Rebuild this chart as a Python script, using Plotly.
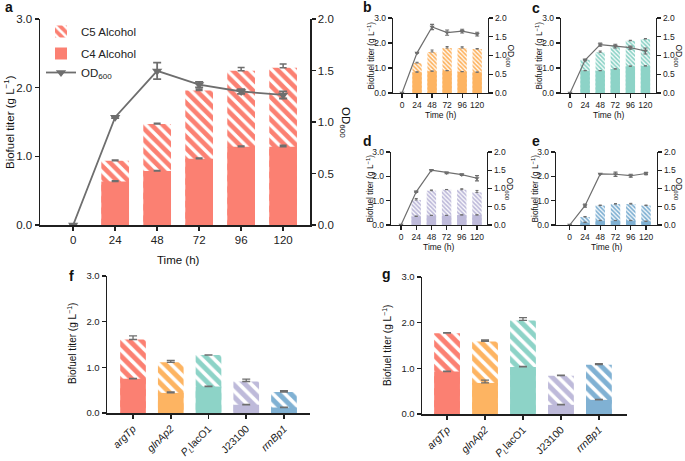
import plotly.graph_objects as go

W, H = 685, 461

# ---------------- data ----------------
times = ["0", "24", "48", "72", "96", "120"]
bar_times = ["24", "48", "72", "96", "120"]

a_c4 = [0.635, 0.785, 0.965, 1.14, 1.14]
a_c5 = [0.30, 0.685, 0.995, 1.105, 1.15]
a_c4_err = [0.01, 0.01, 0.01, 0.01, 0.02]
a_tot_err = [0.01, 0.01, 0.02, 0.05, 0.055]
a_od = [0, 1.047, 1.496, 1.363, 1.296, 1.263]
a_od_err = [0, 0.01, 0.08, 0.026, 0.023, 0.035]

b_c4 = [0.83, 0.87, 0.89, 0.85, 0.83]
b_c5 = [0.37, 0.77, 0.91, 0.95, 0.93]
b_c4_err = [0.02, 0.01, 0.01, 0.01, 0.01]
b_tot_err = [0.03, 0.08, 0.06, 0.05, 0.02]
b_od = [0, 1.07, 1.76, 1.61, 1.65, 1.57]
b_od_err = [0, 0.01, 0.07, 0.07, 0.05, 0.05]

c_c4 = [0.89, 0.89, 0.96, 1.07, 1.08]
c_c5 = [0.44, 0.74, 0.91, 1.02, 1.08]
c_c4_err = [0.01, 0.01, 0.01, 0.01, 0.01]
c_tot_err = [0.02, 0.05, 0.04, 0.02, 0.02]
c_od = [0, 0.88, 1.29, 1.25, 1.21, 1.12]
c_od_err = [0, 0.02, 0.04, 0.05, 0.04, 0.08]

d_c4 = [0.35, 0.39, 0.39, 0.41, 0.41]
d_c5 = [0.68, 1.02, 1.06, 1.04, 0.93]
d_c4_err = [0.02, 0.01, 0.01, 0.01, 0.01]
d_tot_err = [0.06, 0.03, 0.01, 0.04, 0.08]
d_od = [0, 0.91, 1.50, 1.43, 1.38, 1.28]
d_od_err = [0, 0.02, 0.01, 0.02, 0.02, 0.07]

e_c4 = [0.10, 0.18, 0.18, 0.18, 0.15]
e_c5 = [0.23, 0.62, 0.68, 0.68, 0.65]
e_c4_err = [0.02, 0.01, 0.01, 0.01, 0.01]
e_tot_err = [0.02, 0.02, 0.02, 0.03, 0.02]
e_od = [0, 0.53, 1.40, 1.39, 1.35, 1.41]
e_od_err = [0, 0.04, 0.01, 0.06, 0.04, 0.03]

promoters = ["argTp", "glnAp2", "PLlacO1", "J23100", "rrnBp1"]
promoter_labels = ["<i>argTp</i>", "<i>glnAp2</i>", "<i>P</i><sub><i>L</i></sub>lacO1",
                   "J23100", "<i>rrnBp1</i>"]

f_c4 = [0.75, 0.44, 0.58, 0.18, 0.12]
f_c5 = [0.86, 0.67, 0.69, 0.51, 0.34]
f_c4_err = [0.01, 0.02, 0.01, 0.01, 0.01]
f_tot_err = [0.08, 0.04, 0.0, 0.05, 0.03]

g_c4 = [0.93, 0.68, 1.03, 0.20, 0.31]
g_c5 = [0.84, 0.91, 1.02, 0.64, 0.77]
g_c4_err = [0.01, 0.06, 0.01, 0.01, 0.01]
g_tot_err = [0.01, 0.03, 0.06, 0.01, 0.02]

RED, ORANGE, TEAL, LAV, BLUE = "#FB8072", "#FDB462", "#8DD3C7", "#BEBADA", "#80B1D3"
GREY = "#6E6E6E"
AX = "#1f1f1f"
FONT = "Liberation Sans, Arial, sans-serif"

fig = go.Figure()


def px_x(x0, x1):
    return [x0 / W, x1 / W]


def px_y(top, bottom):
    return [1 - bottom / H, 1 - top / H]


def add_bars(xs, c4, c5, c4_err, tot_err, color, xa, ya, psize, ecap, ewidth, legend=False, width=0.66):
    tot = [p + q for p, q in zip(c4, c5)]
    fig.add_trace(go.Bar(
        x=xs, y=tot, xaxis=xa, yaxis=ya, width=width, name="C5 Alcohol",
        showlegend=legend, legendgroup="g1",
        marker=dict(color=color, line=dict(width=0),
                    pattern=dict(shape="\\", fgcolor="white", bgcolor=color,
                                 size=psize, solidity=0.42, fillmode="replace")),
        error_y=dict(type="data", array=tot_err, arrayminus=[0] * len(tot_err), symmetric=False,
                     color=GREY, thickness=ewidth, width=ecap),
    ))
    fig.add_trace(go.Bar(
        x=xs, y=c4, xaxis=xa, yaxis=ya, width=width, name="C4 Alcohol",
        showlegend=legend, legendgroup="g2",
        marker=dict(color=color, line=dict(width=0)),
        error_y=dict(type="data", array=c4_err, arrayminus=[0] * len(c4_err), symmetric=False,
                     color=GREY, thickness=ewidth, width=ecap),
    ))


def add_od(od, od_err, xa, ya, msize, lw, ecap, legend=False):
    fig.add_trace(go.Scatter(
        x=times, y=od, xaxis=xa, yaxis=ya, mode="lines+markers", name="OD<sub>600</sub>",
        showlegend=legend, legendgroup="g2",
        line=dict(color=GREY, width=lw),
        marker=dict(symbol="triangle-down", size=msize, color=GREY),
        error_y=dict(type="data", array=od_err, color=GREY, thickness=lw, width=ecap),
    ))


# panel a
add_bars(bar_times, a_c4, a_c5, a_c4_err, a_tot_err, RED, "x", "y", 8, 3.5, 1.5, legend=True)
add_od(a_od, a_od_err, "x", "y2", 9, 1.8, 4, legend=True)
# small panels
small = [("x2", "y3", "y4", b_c4, b_c5, b_c4_err, b_tot_err, b_od, b_od_err, ORANGE),
         ("x3", "y5", "y6", c_c4, c_c5, c_c4_err, c_tot_err, c_od, c_od_err, TEAL),
         ("x4", "y7", "y8", d_c4, d_c5, d_c4_err, d_tot_err, d_od, d_od_err, LAV),
         ("x5", "y9", "y10", e_c4, e_c5, e_c4_err, e_tot_err, e_od, e_od_err, BLUE)]
for xa, ya, ya2, c4, c5, c4e, te, od, ode, col in small:
    add_bars(bar_times, c4, c5, c4e, te, col, xa, ya, 3.0, 1.5, 1, width=0.62)
    add_od(od, ode, xa, ya2, 4.5, 1.2, 2)

# panels f, g
pcolors = [RED, ORANGE, TEAL, LAV, BLUE]
for xa, ya, c4, c5, c4e, te in [("x6", "y11", f_c4, f_c5, f_c4_err, f_tot_err),
                                ("x7", "y12", g_c4, g_c5, g_c4_err, g_tot_err)]:
    for i, p in enumerate(promoters):
        add_bars([p], [c4[i]], [c5[i]], [c4e[i]], [te[i]], pcolors[i], xa, ya, 8.5, 4, 1.3,
                 width=0.68)

# ---------------- axes ----------------
def xaxis_cfg(dom, rng, cats, fs, ticktext=None, tickangle=0, lw=1.4, anchor="y"):
    d = dict(domain=dom, range=rng, type="category", categoryorder="array", categoryarray=cats,
             showline=True, linecolor=AX, linewidth=lw, ticks="outside", ticklen=4,
             tickwidth=lw, tickcolor=AX, showgrid=False, zeroline=False, anchor=anchor,
             tickfont=dict(size=fs, color="#222", family=FONT), tickangle=tickangle,
             fixedrange=True, automargin=False)
    if ticktext is not None:
        d["tickvals"] = cats
        d["ticktext"] = ticktext
    return d


def yaxis_cfg(dom, rng, dtick, fs, anchor, side="left", overlaying=None, lw=1.4):
    d = dict(range=rng, dtick=dtick, tick0=0, tickformat=".1f", showline=True, linecolor=AX,
             linewidth=lw, ticks="outside", ticklen=4, tickwidth=lw, tickcolor=AX,
             showgrid=False, zeroline=False, anchor=anchor, side=side,
             tickfont=dict(size=fs, color="#222", family=FONT), fixedrange=True,
             automargin=False)
    if overlaying:
        d["overlaying"] = overlaying
    else:
        d["domain"] = dom
    return d


layout = {}
# a
layout["xaxis"] = xaxis_cfg(px_x(40, 310), [-0.79, 5.64], times, 11.5, anchor="y", lw=1.5)
layout["yaxis"] = yaxis_cfg(px_y(19, 225), [0, 3], 1, 11.5, "x", lw=1.5)
layout["yaxis2"] = yaxis_cfg(None, [0, 2], 0.5, 11.5, "x", side="right", overlaying="y", lw=1.5)

SF = 8.5
small_geo = [  # x0, x1, top, bottom, range
    (393, 488, 18, 93, [-0.6, 5.72]),
    (561, 656, 18, 93, [-0.6, 5.7]),
    (391, 487, 152, 225, [-0.66, 5.66]),
    (556, 657, 152, 225, [-0.9, 5.72]),
]
for k, (x0, x1, t, bt, rng) in enumerate(small_geo):
    xi = k + 2
    yi = 2 * k + 3
    layout[f"xaxis{xi}"] = xaxis_cfg(px_x(x0, x1), rng, times, SF, anchor=f"y{yi}", lw=1.2)
    layout[f"yaxis{yi}"] = yaxis_cfg(px_y(t, bt), [0, 3], 1, SF, f"x{xi}", lw=1.2)
    layout[f"yaxis{yi + 1}"] = yaxis_cfg(None, [0, 2], 0.5, SF, f"x{xi}", side="right",
                                         overlaying=f"y{yi}", lw=1.2)

layout["xaxis6"] = xaxis_cfg(px_x(107, 310), [-0.69, 4.69], promoters, 10.5,
                             ticktext=promoter_labels, tickangle=-45, anchor="y11", lw=1.5)
layout["yaxis11"] = yaxis_cfg(px_y(276, 413), [0, 3], 1, 9.5, "x6", lw=1.5)
layout["xaxis7"] = xaxis_cfg(px_x(422, 627), [-0.66, 4.74], promoters, 10.5,
                             ticktext=promoter_labels, tickangle=-45, anchor="y12", lw=1.5)
layout["yaxis12"] = yaxis_cfg(px_y(277, 414), [0, 3], 1, 9.5, "x7", lw=1.5)

# ---------------- annotations ----------------
ann = []


def text(x, y, s, size, angle=0):
    ann.append(dict(x=x / W, y=1 - y / H, xref="paper", yref="paper", text=s, showarrow=False,
                    textangle=angle, xanchor="center", yanchor="middle",
                    font=dict(size=size, family=FONT, color="#111")))


YT = "Biofuel titer (g L<sup>−1</sup>)"
OD = "OD<sub>600</sub>"
# panel letters
for lx, ly, s in [(9, 7, "a"), (367, 7, "b"), (536, 8, "c"), (367, 141, "d"), (536, 141, "e"),
                  (71, 276, "f"), (387, 274, "g")]:
    text(lx, ly, f"<b>{s}</b>", 14)
# panel a titles
text(9, 122, YT, 11.5, -90)
text(345, 122, OD, 11.5, 90)
text(178, 260, "Time (h)", 11.5)
# small panel titles
for (x0, x1, t, bt, rng) in small_geo:
    cy = (t + bt) / 2
    text(x0 - 22, cy, YT, 8.3, -90)
    text(min(x1 + 22, 678), cy, OD, 8.5, 90)
    text((x0 + x1) / 2, bt + 22, "Time (h)", 8.5)
# f, g titles
text(72, 344, YT, 10, -90)
text(387, 345, YT, 10, -90)

fig.update_layout(
    **layout,
    annotations=ann,
    barmode="overlay",
    width=W, height=H,
    margin=dict(l=0, r=0, t=0, b=0, autoexpand=False),
    paper_bgcolor="white", plot_bgcolor="white",
    font=dict(family=FONT, size=11, color="#222"),
    showlegend=True,
    legend=dict(x=41 / W, y=1 - 17 / H, xanchor="left", yanchor="top",
                bgcolor="rgba(0,0,0,0)", font=dict(size=11.5, family=FONT, color="#222"),
                traceorder="grouped", itemwidth=30, tracegroupgap=3),
)

fig.write_html("out.html",
               config={"displayModeBar": False, "staticPlot": True},
               post_script="document.body.style.margin='0';document.body.style.overflow='hidden';")
